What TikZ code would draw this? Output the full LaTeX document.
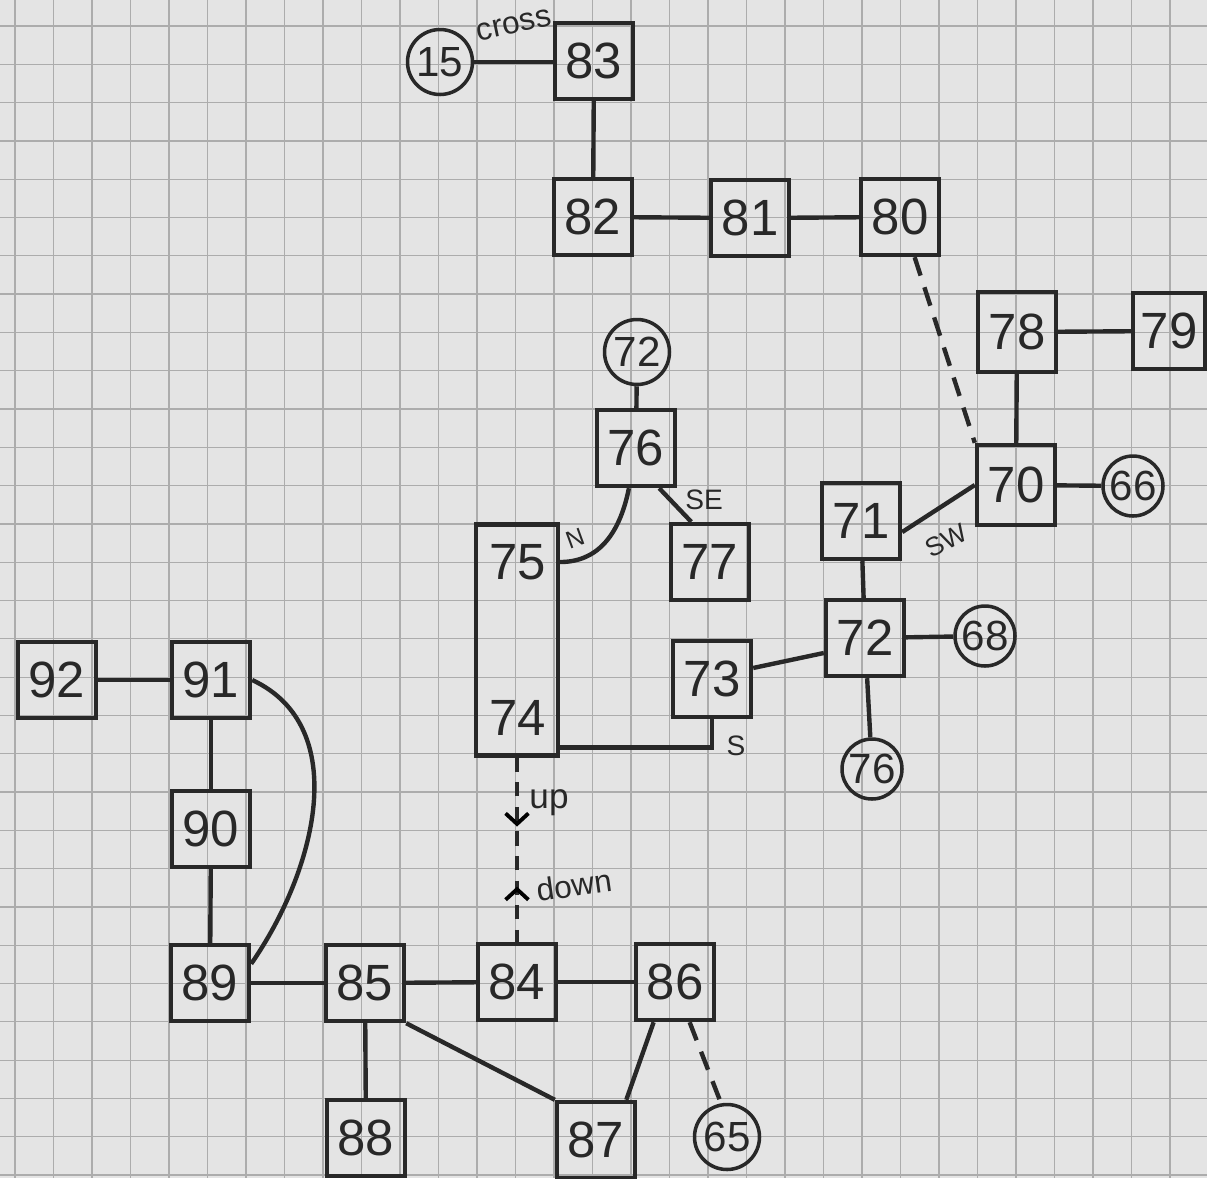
\documentclass[tikz,border=0pt]{standalone}
\usepackage{fontspec}
\setmainfont{Liberation Sans}
\usetikzlibrary{calc,decorations.markings,arrows.meta}
\definecolor{paper}{RGB}{228,228,228}
\definecolor{gridc}{RGB}{172,172,172}
\definecolor{ink}{RGB}{40,40,40}
\begin{document}
\begin{tikzpicture}[x=0.02cm,y=-0.02cm,
  room/.style={draw=ink, line width=2.5pt, minimum width=1.56cm, minimum height=1.52cm, inner sep=0pt, text=ink, font=\fontsize{29}{30}\selectfont},
  exitc/.style={draw=ink, circle, line width=2pt, minimum size=1.3cm, inner sep=0pt, text=ink, font=\fontsize{24}{25}\selectfont},
  numtxt/.style={text=ink, inner sep=0pt, font=\fontsize{29}{30}\selectfont},
  link/.style={draw=ink, line width=2.5pt},
  hidden/.style={link, dash pattern=on 11pt off 7pt},
  tag/.style={text=ink, inner sep=0pt}]
\fill[paper] (0,0) rectangle (1207,1178);
\useasboundingbox (0,0) rectangle (1207,1178);
\foreach \k in {0,...,30}{
  \draw[gridc, line width=0.7pt] ({15+38.5*\k},0) -- ({15+38.5*\k},1178);
  \draw[gridc, line width=0.7pt] (0,{26+38.3*\k}) -- (1207,{26+38.3*\k});
}
% rooms
\node[exitc] (c15) at (440,62) {15};
\node[room] (b83) at (594,61) {83};
\node[room] (b82) at (593,217) {82};
\node[room] (b81) at (750,218) {81};
\node[room] (b80) at (900,217) {80};
\node[room, minimum height=1.6cm] (b78) at (1017,332) {78};
\node[room, minimum width=1.44cm] (b79) at (1169,331) {79};
\node[room, minimum height=1.6cm] (b70) at (1016,485) {70};
\node[exitc, minimum size=1.2cm] (c66) at (1133,486) {66};
\node[room] (b71) at (861,521) {71};
\node[room] (b72) at (865,638) {72};
\node[exitc, minimum size=1.2cm] (c68) at (985,636) {68};
\node[exitc, minimum size=1.2cm] (c76) at (872,769) {76};
\node[room] (b73) at (712,679) {73};
\node[room] (b77) at (710,562) {77};
\node[room] (b76) at (636,448) {76};
\node[exitc] (c72) at (637,352) {72};
\node[room, minimum width=1.64cm, minimum height=4.62cm] (b7574) at (517,640) {};
\node[numtxt] (t75) at (518,562) {75};
\node[numtxt] (t74) at (518,718) {74};
\node[room] (b84) at (517,982) {84};
\node[room] (b85) at (365,983) {85};
\node[room] (b86) at (675,982) {86};
\node[room] (b87) at (596,1140) {87};
\node[room] (b88) at (366,1138) {88};
\node[exitc] (c65) at (727,1137) {65};
\node[room] (b89) at (210,983) {89};
\node[room] (b90) at (211,829) {90};
\node[room] (b91) at (211,680) {91};
\node[room] (b92) at (57,680) {92};
% connectors
\draw[link] (c15) -- (b83.west |- c15);
\node[tag, rotate=12, font=\fontsize{18}{18}\selectfont] at (514,25) {cross};
\draw[link] (b83) -- (b82);
\draw[link] (b82) -- (b81);
\draw[link] (b81) -- (b80);
\draw[hidden] (b80.290) -- (b70.north west);
\draw[link] (b78) -- (b79);
\draw[link] (b78) -- (b70);
\draw[link] (b70) -- (c66);
\draw[link] (b71.-15) -- (b70.west);
\node[tag, rotate=28, font=\fontsize{15}{15}\selectfont] at (946,541) {SW};
\draw[link] (b71) -- (b72);
\draw[link] (b73.15) -- (b72.200);
\draw[link] (b72) -- (c68);
\draw[link] (b72) -- (c76);
\draw[link] (c72) -- (b76);
\draw[link] (b76.260) .. controls +(-10,50) and +(35,0) .. (b7574.east |- t75);
\node[tag, rotate=20, font=\fontsize{14}{14}\selectfont] at (575,538) {N};
\draw[link] (b76.-60) -- (b77.115);
\node[tag, font=\fontsize{16}{16}\selectfont] at (704,500) {SE};
\draw[link] ($(b7574.south east)+(0,-10)$) -| (b73.south);
\node[tag, font=\fontsize{16}{16}\selectfont] at (736,746) {S};
\draw[link, dash pattern=on 8pt off 6pt] (b7574.south) -- (b84.north);
\path[color=ink, decoration={markings,
   mark=at position 0.374 with {\arrow[line width=2.2pt]{Straight Barb[length=6pt,width=13pt]}},
   mark=at position 0.7 with {\arrowreversed[line width=2.2pt]{Straight Barb[length=6pt,width=13pt]}}},
   decorate] (b7574.south) -- (b84.north);
\node[tag, font=\fontsize{20}{20}\selectfont] at (549,803) {up};
\node[tag, rotate=8, font=\fontsize{18}{18}\selectfont] at (574,885) {down};
\draw[link] (b89) -- (b85);
\draw[link] (b85) -- (b84);
\draw[link] (b84) -- (b86);
\draw[link] (b85) -- (b88);
\draw[link] (b85.south east) -- (b87.north west);
\draw[link] (b86.242) -- (b87.53);
\draw[hidden] (b86.-70) -- (c65.100);
\draw[link] (b92) -- (b91);
\draw[link] (b91) -- (b90);
\draw[link] (b90) -- (b89);
\draw[link] (b91.east) .. controls +(101,47) and +(64,-92) .. (b89.25);
\end{tikzpicture}
\end{document}
